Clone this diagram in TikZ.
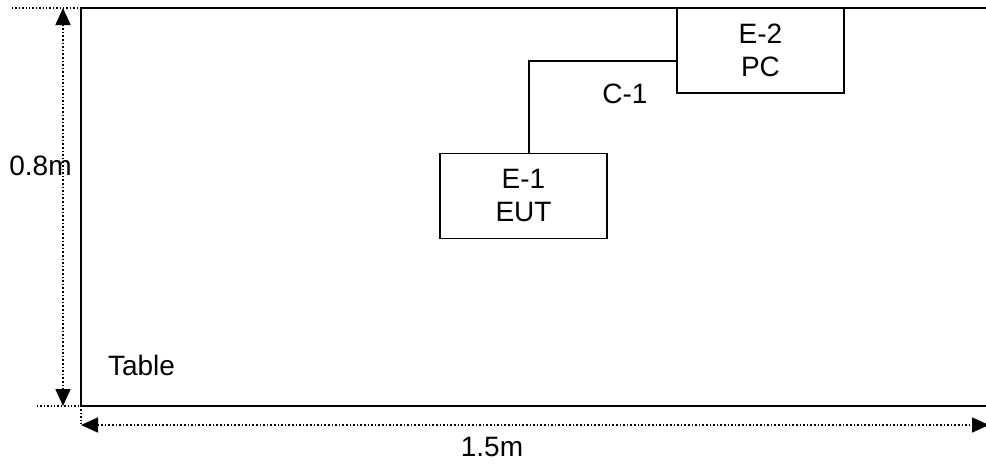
\documentclass[tikz,border=0pt]{standalone}
\usepackage{fontspec}
\setmainfont{Liberation Sans}
\usetikzlibrary{arrows.meta}
\begin{document}
\begin{tikzpicture}[x=1pt,y=-1pt,
  every node/.style={font=\fontsize{28}{33}\selectfont, inner sep=0pt},
  devbox/.style={draw, line width=1.5pt, minimum width=167pt, minimum height=85pt, align=center},
  tableline/.style={line width=1.8pt},
  wire/.style={line width=1.5pt},
  dimline/.style={dotted, line width=1.6pt, {Triangle[width=15pt,length=17pt]}-{Triangle[width=15pt,length=17pt]}},
  extline/.style={dotted, line width=1.4pt}]
\useasboundingbox (0,0) rectangle (986,466);
% coordinates
\coordinate (tl) at (81,8);
\coordinate (tr) at (990,8);
\coordinate (bl) at (81,406);
\coordinate (br) at (990,406);
% table
\draw[tableline] (tr) -- (tl) -- (bl) -- (br);
% devices
\node[devbox] (e1) at (523.5,196) {E-1\\EUT};
\node[devbox] (e2) at (760.5,50.5) {E-2\\PC};
\draw[wire] ([xshift=5.5pt]e1.north) |- ([yshift=-10.5pt]e2.west);
\node[anchor=base] (c1) at (625,103) {C-1};
\node[anchor=base] (tbl) at (141.5,375) {Table};
% dimensions
\coordinate (vt) at (63,8);
\coordinate (vb) at (63,406);
\coordinate (et) at (12,8);
\coordinate (eb) at (37,406);
\draw[extline] (et) -- (tl);
\draw[extline] (eb) -- (bl);
\draw[dimline] (vt) -- (vb);
\coordinate (hl) at (81,425);
\coordinate (hr) at (989,425);
\draw[extline] (bl) -- (hl);
\draw[dimline] (hl) -- (hr);
\node[anchor=base] (h) at (40.5,175) {0.8m};
\node[anchor=base] (w) at (492,456) {1.5m};
\end{tikzpicture}
\end{document}
